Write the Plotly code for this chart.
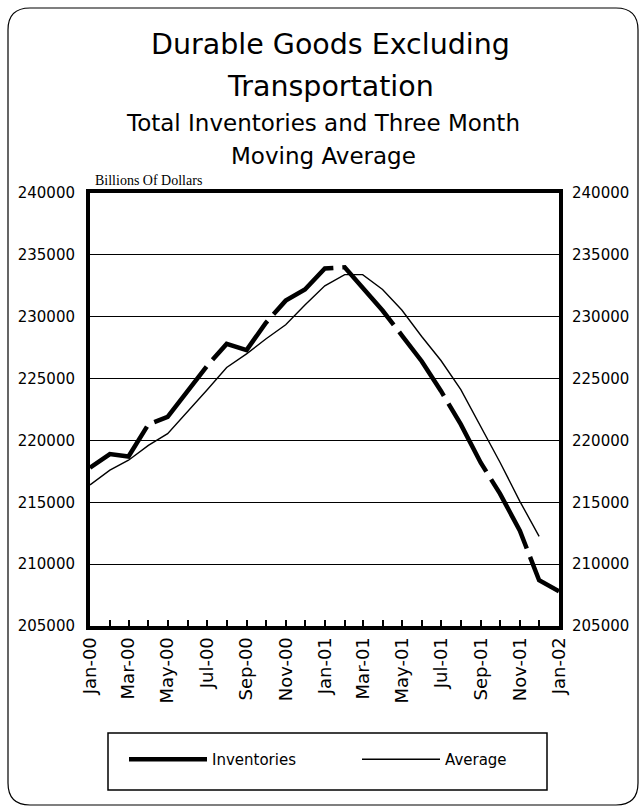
import plotly.graph_objects as go

# monthly data, Jan-00 .. Jan-02
months = ['2000-01-01', '2000-02-01', '2000-03-01', '2000-04-01', '2000-05-01', '2000-06-01',
          '2000-07-01', '2000-08-01', '2000-09-01', '2000-10-01', '2000-11-01', '2000-12-01',
          '2001-01-01', '2001-02-01', '2001-03-01', '2001-04-01', '2001-05-01', '2001-06-01',
          '2001-07-01', '2001-08-01', '2001-09-01', '2001-10-01', '2001-11-01', '2001-12-01',
          '2002-01-01']
tick_labels = ['Jan-00', '', 'Mar-00', '', 'May-00', '', 'Jul-00', '', 'Sep-00', '', 'Nov-00', '',
               'Jan-01', '', 'Mar-01', '', 'May-01', '', 'Jul-01', '', 'Sep-01', '', 'Nov-01', '',
               'Jan-02']

inventories = [217800, 218900, 218700, 221300, 221900, 224000, 226000, 227800, 227300, 229500,
               231300, 232200, 233900, 234000, 232300, 230500, 228500, 226400, 224000, 221300,
               218200, 215700, 212700, 208700, 207800]
average = [216400, 217600, 218400, 219600, 220550, 222300, 224050, 225900, 227000, 228200,
           229350, 230950, 232500, 233400, 233400, 232200, 230540, 228400, 226460, 224100,
           221160, 218240, 215080, 212240]

W, H = 642, 811
L, R, T, B = 90, 559, 193, 626


def px(x):
    return (x - L) / (R - L)


def py(y):
    return (B - y) / (B - T)


fig = go.Figure()
fig.add_trace(go.Scatter(x=months, y=inventories, mode='lines', name='Inventories',
                         line=dict(color='black', width=4.5, dash='78px,9px')))
fig.add_trace(go.Scatter(x=months[:len(average)], y=average, mode='lines', name='Average',
                         line=dict(color='black', width=1.4), yaxis='y2'))

font = 'DejaVu Sans, sans-serif'

# rounded page border
x0, x1, y0, y1, r = px(8), px(638), py(8), py(805), 22
rx, ry = r / (R - L), r / (B - T)
border = (f'M {x0 + rx},{y0} L {x1 - rx},{y0} Q {x1},{y0} {x1},{y0 - ry} '
          f'L {x1},{y1 + ry} Q {x1},{y1} {x1 - rx},{y1} L {x0 + rx},{y1} '
          f'Q {x0},{y1} {x0},{y1 + ry} L {x0},{y0 - ry} Q {x0},{y0} {x0 + rx},{y0} Z')

annots = [
    dict(text='Durable Goods Excluding', x=px(330), y=py(45), size=28.5),
    dict(text='Transportation', x=px(330), y=py(87), size=28.5),
    dict(text='Total Inventories and Three Month', x=px(323), y=py(123), size=23),
    dict(text='Moving Average', x=px(323), y=py(156), size=23),
]
annotations = [dict(text=a['text'], x=a['x'], y=a['y'], xref='paper', yref='paper',
                    xanchor='center', yanchor='middle', showarrow=False,
                    font=dict(family=font, size=a['size'], color='black')) for a in annots]
annotations.append(dict(text='Billions Of Dollars', x=px(93), y=py(181), xref='paper', yref='paper',
                        xanchor='left', yanchor='middle', showarrow=False,
                        font=dict(family='Liberation Serif, serif', size=14, color='black')))

yax = dict(range=[205000, 240000], dtick=5000, tickformat='d', showgrid=True,
           gridcolor='black', gridwidth=1, zeroline=False, ticks='',
           tickfont=dict(family=font, size=15, color='black'))

fig.update_layout(
    width=W, height=H,
    margin=dict(l=L, r=W - R, t=T, b=H - B, autoexpand=False),
    paper_bgcolor='white', plot_bgcolor='white',
    showlegend=True,
    legend=dict(orientation='h', x=px(124), y=py(743), xanchor='left', yanchor='top',
                bgcolor='rgba(0,0,0,0)', borderwidth=0, itemwidth=78, entrywidth=140,
                font=dict(family=font, size=15, color='black'),
                itemclick=False),
    xaxis=dict(type='date', range=['2000-01-01', '2002-01-01'], tickvals=months, ticktext=tick_labels,
               tickangle=-90, ticks='inside', ticklen=6, tickcolor='black', tickwidth=1.5,
               showgrid=False, showline=True, linecolor='black', linewidth=4, mirror=True,
               tickfont=dict(family=font, size=18, color='black')),
    yaxis=dict(**yax, side='left', showline=True, linecolor='black', linewidth=4, mirror=True,
               ticklabelstandoff=8),
    yaxis2=dict(**yax, side='right', overlaying='y', showline=False, ticklabelstandoff=12),
    shapes=[
        dict(type='path', path=border, xref='paper', yref='paper',
             line=dict(color='black', width=1.2)),
        # legend frame
        dict(type='rect', xref='paper', yref='paper', x0=px(108), x1=px(547), y0=py(733), y1=py(790),
             line=dict(color='black', width=1.5)),
    ],
    annotations=annotations,
)

fig.write_html('out.html', config={'displayModeBar': False},
               post_script="document.body.style.margin='0';")
